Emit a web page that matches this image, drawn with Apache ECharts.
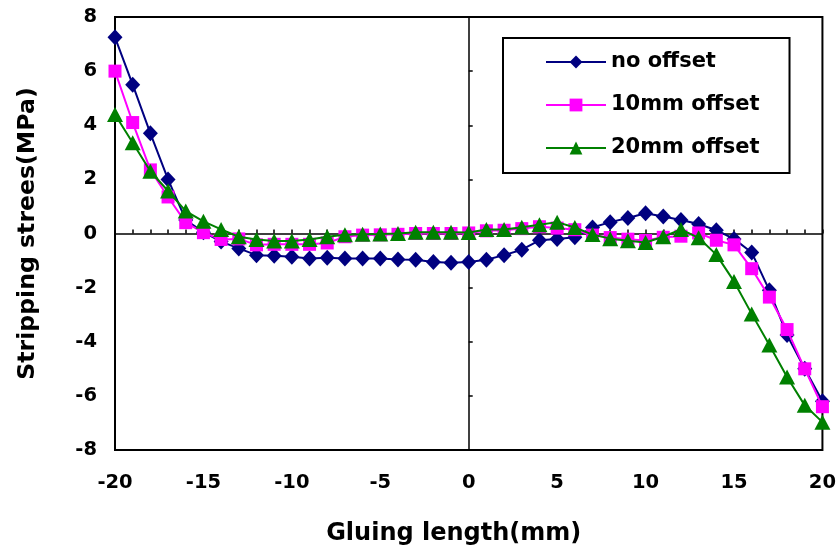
<!DOCTYPE html>
<html>
<head>
<meta charset="utf-8">
<script src="https://cdn.jsdelivr.net/npm/echarts@6/dist/echarts.min.js"></script>
<style>
  html, body { margin: 0; padding: 0; background: #fff; }
  #main { width: 839px; height: 554px; }
</style>
</head>
<body>
<div id="main"></div>
<script>
// gluing length positions (mm)
const xValues = [-20, -19, -18, -17, -16, -15, -14, -13, -12, -11, -10, -9, -8, -7, -6, -5, -4, -3, -2, -1,
  0, 1, 2, 3, 4, 5, 6, 7, 8, 9, 10, 11, 12, 13, 14, 15, 16, 17, 18, 19, 20];

// stripping stress (MPa)
const noOffset = [7.25, 5.5, 3.7, 2.0, 0.5, 0.05, -0.3, -0.55, -0.8, -0.82, -0.86, -0.92, -0.9, -0.92, -0.92, -0.92, -0.96, -0.97, -1.05, -1.08,
  -1.05, -0.97, -0.8, -0.6, -0.25, -0.2, -0.14, 0.22, 0.42, 0.57, 0.75, 0.63, 0.5, 0.35, 0.12, -0.2, -0.7, -2.1, -3.75, -5.0, -6.2];
const offset10 = [6.0, 4.1, 2.35, 1.35, 0.4, 0.03, -0.22, -0.2, -0.42, -0.4, -0.4, -0.4, -0.35, -0.12, -0.06, -0.05, -0.03, 0, 0, 0,
  0.02, 0.1, 0.12, 0.18, 0.25, 0.2, 0.14, -0.06, -0.15, -0.21, -0.26, -0.14, -0.1, 0.02, -0.25, -0.42, -1.3, -2.35, -3.55, -5.0, -6.4];
const offset20 = [4.4, 3.35, 2.3, 1.57, 0.83, 0.45, 0.15, -0.12, -0.22, -0.28, -0.28, -0.22, -0.12, -0.05, -0.03, -0.02, 0, 0.05, 0.05, 0.05,
  0.04, 0.15, 0.15, 0.23, 0.32, 0.42, 0.22, -0.04, -0.19, -0.27, -0.33, -0.12, 0.15, -0.16, -0.78, -1.77, -2.97, -4.12, -5.3, -6.35, -6.97];

const seriesNames = ['no offset', '10mm offset', '20mm offset'];

function pairs(ys) {
  return xValues.map((x, i) => [x, ys[i]]);
}

const font = 'DejaVu Sans';

const chart = echarts.init(document.getElementById('main'), null, { renderer: 'canvas' });

const option = {
  animation: false,
  backgroundColor: '#fff',
  grid: {
    left: 115, right: 13, top: 17, bottom: 104,
    show: true, borderColor: '#000', borderWidth: 2, backgroundColor: 'transparent'
  },
  legend: {
    orient: 'vertical',
    left: 503, top: 38,
    data: seriesNames,
    itemWidth: 60, itemHeight: 16,
    itemGap: 21,
    padding: [13, 30, 14, 42],
    borderColor: '#000', borderWidth: 2,
    backgroundColor: '#fff',
    textStyle: { fontFamily: font, fontWeight: 'bold', fontSize: 21, color: '#000', lineHeight: 22 }
  },
  xAxis: [{
    type: 'value', position: 'bottom',
    min: -20, max: 20, interval: 5,
    name: 'Gluing length(mm)', nameLocation: 'middle', nameGap: 72,
    nameTextStyle: { fontFamily: font, fontWeight: 'bold', fontSize: 24, color: '#000', padding: [0, 30, 0, 0] },
    axisLine: { show: false, onZero: false },
    axisTick: { show: false },
    splitLine: { show: false },
    axisLabel: { fontFamily: font, fontWeight: 'bold', fontSize: 19.5, color: '#000', margin: 23 }
  }, {
    type: 'value', position: 'bottom',
    min: -20, max: 20, interval: 1,
    axisLine: { show: true, onZero: true, onZeroAxisIndex: 1, lineStyle: { color: '#000', width: 1.5 } },
    axisTick: { show: true, inside: true, length: 4, lineStyle: { color: '#000', width: 1.5 } },
    axisLabel: { show: false },
    splitLine: { show: false }
  }],
  yAxis: [{
    type: 'value', position: 'left',
    min: -8, max: 8, interval: 2,
    name: 'Stripping strees(MPa)', nameLocation: 'middle', nameGap: 75,
    nameTextStyle: { fontFamily: font, fontWeight: 'bold', fontSize: 23.6, color: '#000' },
    axisLine: { show: false, onZero: false },
    axisTick: { show: false },
    splitLine: { show: false },
    axisLabel: { fontFamily: font, fontWeight: 'bold', fontSize: 19.5, color: '#000', margin: 18 }
  }, {
    type: 'value', position: 'left',
    min: -8, max: 8, interval: 2,
    axisLine: { show: true, onZero: true, onZeroAxisIndex: 1, lineStyle: { color: '#000', width: 1.5 } },
    axisTick: { show: true, inside: true, length: 4, lineStyle: { color: '#000', width: 1.5 } },
    axisLabel: { show: false },
    splitLine: { show: false }
  }],
  series: [{
    name: seriesNames[0], type: 'line',
    xAxisIndex: 0, yAxisIndex: 0,
    data: pairs(noOffset),
    symbol: 'diamond', symbolSize: [15, 16],
    itemStyle: { color: '#000080' },
    lineStyle: { color: '#000080', width: 2 },
    z: 3
  }, {
    name: seriesNames[1], type: 'line',
    xAxisIndex: 0, yAxisIndex: 0,
    data: pairs(offset10),
    symbol: 'rect', symbolSize: 13,
    itemStyle: { color: '#ff00ff' },
    lineStyle: { color: '#ff00ff', width: 2 },
    z: 4
  }, {
    name: seriesNames[2], type: 'line',
    xAxisIndex: 0, yAxisIndex: 0,
    data: pairs(offset20),
    symbol: 'triangle', symbolSize: [16, 15],
    itemStyle: { color: '#008000' },
    lineStyle: { color: '#008000', width: 2 },
    z: 5
  }]
};

chart.setOption(option);
window.onresize = function () {
  chart.resize();
};
</script>
</body>
</html>
